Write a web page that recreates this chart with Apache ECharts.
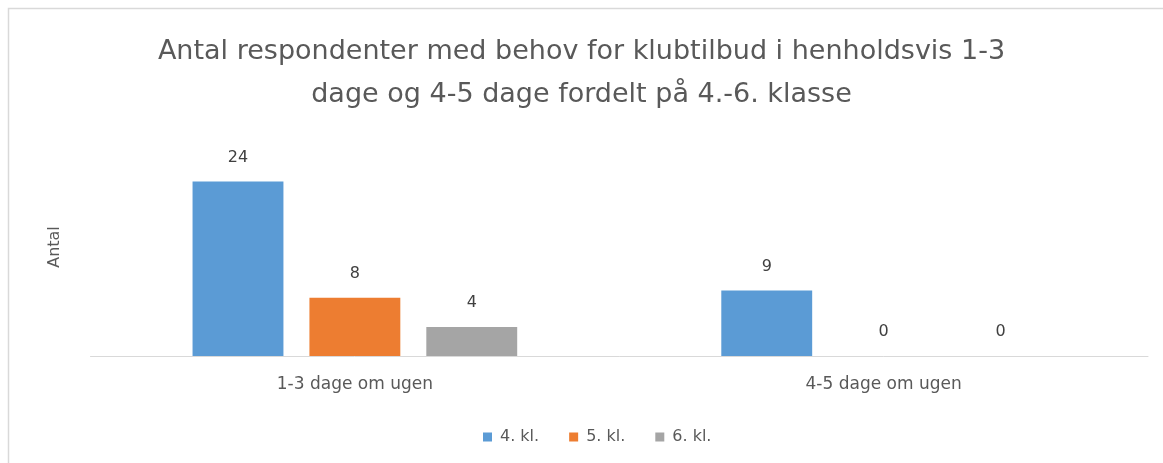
<!DOCTYPE html>
<html>
<head>
<meta charset="utf-8">
<script src="https://cdn.jsdelivr.net/npm/echarts@6/dist/echarts.min.js"></script>
<style>
  html, body { margin: 0; padding: 0; background: #fff; }
  #chart { width: 1163px; height: 463px; }
</style>
</head>
<body>
<div id="chart"></div>
<script>
// data
var categories = ['1-3 dage om ugen', '4-5 dage om ugen'];
var seriesNames = ['4. kl.', '5. kl.', '6. kl.'];
var kl4 = [24, 9];
var kl5 = [8, 0];
var kl6 = [4, 0];
var colors = ['#5B9BD5', '#ED7D31', '#A5A5A5'];

var chart = echarts.init(document.getElementById('chart'));

function barSeries(name, data, color) {
  return {
    name: name,
    type: 'bar',
    data: data,
    barGap: '28.6%',
    barCategoryGap: '38.6%',
    itemStyle: { color: color },
    label: {
      show: true,
      position: 'top',
      distance: 16,
      color: '#404040',
      fontSize: 16,
      fontFamily: 'DejaVu Sans'
    }
  };
}

var option = {
  animation: false,
  color: colors,
  title: {
    text: 'Antal respondenter med behov for klubtilbud i henholdsvis 1-3\ndage og 4-5 dage fordelt på 4.-6. klasse',
    left: 'center',
    top: 25,
    textStyle: {
      fontFamily: 'DejaVu Sans',
      fontWeight: 'normal',
      fontSize: 27,
      color: '#595959',
      lineHeight: 43
    }
  },
  legend: {
    bottom: 13,
    left: 478,
    itemWidth: 9,
    itemHeight: 9,
    itemGap: 30,
    icon: 'rect',
    textStyle: { color: '#595959', fontSize: 16, fontFamily: 'DejaVu Sans', padding: [0, 0, 0, 3] },
    data: seriesNames
  },
  grid: { left: 90.5, right: 15, top: 138, bottom: 107 },
  xAxis: {
    type: 'category',
    data: categories,
    axisLine: { lineStyle: { color: '#D9D9D9', width: 1 } },
    axisTick: { show: false },
    axisLabel: { color: '#595959', fontSize: 17, fontFamily: 'DejaVu Sans', margin: 20 }
  },
  yAxis: {
    type: 'value',
    min: 0,
    max: 30,
    name: 'Antal',
    nameLocation: 'middle',
    nameGap: 28,
    nameTextStyle: { color: '#595959', fontSize: 16, fontFamily: 'DejaVu Sans' },
    axisLabel: { show: false },
    axisLine: { show: false },
    axisTick: { show: false },
    splitLine: { show: false }
  },
  graphic: [{
    type: 'polyline',
    shape: { points: [[8.5, 463], [8.5, 8.5], [1163, 8.5]] },
    style: { stroke: '#D9D9D9', lineWidth: 1.5, fill: null }
  }],
  series: [
    barSeries(seriesNames[0], kl4, colors[0]),
    barSeries(seriesNames[1], kl5, colors[1]),
    barSeries(seriesNames[2], kl6, colors[2])
  ]
};

chart.setOption(option);
</script>
</body>
</html>
